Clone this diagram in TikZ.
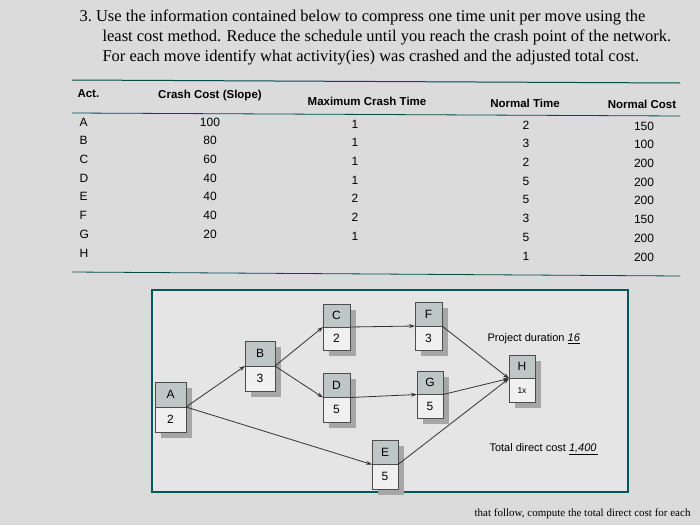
\documentclass[tikz,border=0pt]{standalone}
\usepackage{fontspec}
\setmainfont{Liberation Serif}
\setsansfont{Liberation Sans}
\usetikzlibrary{arrows.meta}
\begin{document}
\begin{tikzpicture}[x=1pt,y=-1pt,
  hd/.style={font=\sffamily\bfseries\fontsize{11.5}{13}\selectfont},
  cell/.style={font=\sffamily\fontsize{12}{14}\selectfont},
  lbl/.style={font=\sffamily\fontsize{11}{13}\selectfont,anchor=west},
  head/.style={anchor=west,font=\fontsize{16.5}{19}\selectfont},
  conn/.style={-{Stealth[length=6pt,width=4pt]},thick,draw=black!80}]
\fill[black!14] (0,0) rectangle (700,525);
\useasboundingbox (0,0) rectangle (700,525);
% heading
\node[head] (h1) at (76,17) {3.\ Use the information contained below to compress one time unit per move using the};
\node[head] (h2) at (99,37) {least cost method. Reduce the schedule until you reach the crash point of the network.};
\node[head] (h3) at (99,57) {For each move identify what activity(ies) was crashed and the adjusted total cost.};
\draw[teal!60!black,line width=1pt] (72,80) -- (680,83);
\node[hd,anchor=west] (c1) at (74,94) {Act.};
\node[hd] (c2) at (210,96) {Crash Cost (Slope)};
\node[hd] (c3) at (367,101) {Maximum Crash Time};
\node[hd] (c4) at (525,103) {Normal Time};
\node[hd] (c5) at (642,104) {Normal Cost};
\draw[teal!60!black,line width=0.8pt] (72,113) -- (680,116);
\foreach \a/\c/\m/\n/\k [count=\i] in {A/100/1/2/150,B/80/1/3/100,C/60/1/2/200,D/40/1/5/200,E/40/2/5/200,F/40/2/3/150,G/20/1/5/200,H///1/200}{
  \pgfmathsetmacro\yy{122+18.7*(\i-1)}
  \node[cell,anchor=west] at (76,\yy) {\a};
  \node[cell] at (210,\yy) {\c};
  \node[cell] at (355,\yy+2) {\m};
  \node[cell] at (526,\yy+3) {\n};
  \node[cell] at (644,\yy+4) {\k};
}
\draw[teal!60!black,line width=0.8pt] (72,272) -- (680,276);
% network box
\draw[teal!70!black,line width=1.6pt,fill=black!10] (152,290) rectangle (628,492);
\newcommand{\act}[5]{%
  \fill[black!35] (#2+6,#3+6) rectangle (#4+6,#5+6);
  \fill[black!6] (#2,#3) rectangle (#4,#5);
  \fill[teal!20!black!25] (#2,#3) rectangle (#4,{(#3+#5)/2});
  \draw[black!70] (#2,#3) rectangle (#4,#5) (#2,{(#3+#5)/2}) -- (#4,{(#3+#5)/2});
  \node[inner sep=0,outer sep=0,minimum width={#4-#2},minimum height={#5-#3}] (#1) at ({(#2+#4)/2},{(#3+#5)/2}) {};
}
\act{A}{155}{382}{186}{432}
\act{B}{245}{341}{275}{391}
\act{C}{323}{304}{350}{350}
\act{F}{415}{302}{442}{350}
\act{D}{323}{373}{350}{422}
\act{G}{417}{371}{443}{418}
\act{H}{509}{355}{535}{402}
\act{E}{372}{440}{398}{489}
\foreach \n/\t/\b in {A/A/2,B/B/3,C/C/2,F/F/3,D/D/5,G/G/5,E/E/5}{
  \path (\n.north) -- (\n.center) node[pos=0.5,cell] (t\n) {\t};
  \path (\n.south) -- (\n.center) node[pos=0.5,cell] (b\n) {\b};
}
\path (H.north) -- (H.center) node[pos=0.5,cell] (tH) {H};
\path (H.south) -- (H.center) node[pos=0.5,font=\sffamily\fontsize{8.5}{10}\selectfont] (bH) {1x};
\draw[conn] (A.east) -- (B.west);
\draw[conn] (A.east) -- (E.west);
\draw[conn] (B.east) -- (C.west);
\draw[conn] (B.east) -- (D.west);
\draw[conn] (C.east) -- (F.west);
\draw[conn] (D.east) -- (G.west);
\draw[conn] (F.east) -- (H.west);
\draw[conn] (G.east) -- (H.west);
\draw[conn] (E.east) -- (H.west);
\node[lbl] (pd) at (484,339) {Project duration \underline{\itshape 16}};
\node[lbl] (tc) at (486,449) {Total direct cost \underline{\itshape 1,400\,}};
\node[anchor=east,font=\fontsize{11}{13}\selectfont] (foot) at (694,514) {that follow, compute the total direct cost for each};
\end{tikzpicture}
\end{document}
